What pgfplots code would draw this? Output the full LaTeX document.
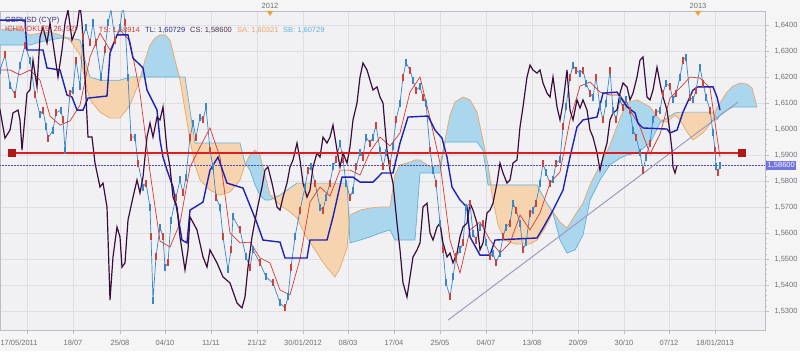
\documentclass[border=0pt]{standalone}
\usepackage{pgfplots}
\pgfplotsset{compat=1.18}
\usepackage{pgfplotstable}
\usepgfplotslibrary{fillbetween}
\usepackage{fontspec}
\setmainfont{Liberation Sans}

\definecolor{bgc}{HTML}{F5F5F5}
\definecolor{plotbg}{HTML}{F1F1F3}
\definecolor{gridc}{HTML}{DEDEE3}
\definecolor{axc}{HTML}{BDBDC3}
\definecolor{tickc}{HTML}{707078}
\definecolor{cloudB}{HTML}{AAD6EE}
\definecolor{cloudO}{HTML}{F7D4B0}
\definecolor{saC}{HTML}{E6A76A}
\definecolor{sbC}{HTML}{62B2DA}
\definecolor{kijC}{HTML}{1E22B0}
\definecolor{tenC}{HTML}{D53A32}
\definecolor{chiC}{HTML}{3A0E3C}
\definecolor{upC}{HTML}{3B86C8}
\definecolor{dnC}{HTML}{C8443C}
\definecolor{hlC}{HTML}{D81E1E}
\definecolor{trC}{HTML}{9C9CBC}
\definecolor{lastC}{HTML}{7272E0}
\definecolor{yearC}{HTML}{F0A030}
\definecolor{navyT}{HTML}{303080}
\definecolor{purT}{HTML}{503050}
\pagecolor{bgc}

\pgfplotstableread{
x p
-43 1.6227
-38 1.6285
-33 1.6169
-28 1.6131
-23 1.6246
-18 1.6323
-13 1.6265
-8 1.6131
-3 1.6054
0 1.6073
3 1.6008
5 1.5965
10 1.5996
13 1.6062
18 1.6073
20 1.6035
22 1.5919
27 1.6138
30 1.6150
33 1.6265
37 1.6162
40 1.6354
43 1.6392
47 1.6331
50 1.6408
53 1.6331
58 1.6200
62 1.6304
65 1.6408
68 1.6458
72 1.6342
77 1.6392
80 1.6477
82 1.6408
85 1.6200
88 1.5969
92 1.5969
95 1.5869
100 1.5777
103 1.5792
107 1.5700
108 1.5585
110 1.5342
113 1.5508
117 1.5623
120 1.5585
122 1.5469
125 1.5485
128 1.5650
133 1.5738
137 1.5804
140 1.5754
143 1.5815
147 1.5969
150 1.6023
153 1.5969
157 1.6046
160 1.6035
163 1.6085
167 1.5919
170 1.5854
173 1.5738
177 1.5700
180 1.5585
185 1.5458
188 1.5535
190 1.5662
197 1.5612
203 1.5508
207 1.5469
210 1.5535
217 1.5485
223 1.5431
230 1.5408
237 1.5331
242 1.5312
245 1.5354
248 1.5469
252 1.5585
257 1.5688
262 1.5777
265 1.5842
268 1.5854
272 1.5792
277 1.5700
280 1.5688
283 1.5738
287 1.5792
290 1.5854
293 1.5881
297 1.5946
300 1.5881
303 1.5792
307 1.5738
310 1.5765
313 1.5854
317 1.5908
320 1.5892
323 1.5969
327 1.5946
330 1.5969
333 1.6015
337 1.5919
340 1.5854
343 1.5908
347 1.5869
350 1.5931
353 1.6035
357 1.6100
360 1.6200
363 1.6254
367 1.6227
370 1.6188
373 1.6150
377 1.6162
380 1.6123
383 1.6100
387 1.5919
390 1.5842
393 1.5792
397 1.5638
400 1.5535
403 1.5408
407 1.5354
410 1.5431
413 1.5508
417 1.5535
420 1.5562
423 1.5700
427 1.5715
430 1.5600
433 1.5573
437 1.5623
440 1.5638
443 1.5562
447 1.5508
450 1.5523
453 1.5485
457 1.5523
460 1.5585
463 1.5623
467 1.5638
470 1.5715
473 1.5688
477 1.5638
480 1.5535
483 1.5562
487 1.5677
490 1.5688
493 1.5715
497 1.5792
500 1.5869
503 1.5831
507 1.5792
510 1.5804
513 1.5869
517 1.5881
520 1.6008
523 1.6085
527 1.6200
530 1.6246
533 1.6227
537 1.6215
540 1.6227
543 1.6177
547 1.6138
550 1.6123
553 1.6200
557 1.6085
560 1.6035
563 1.6100
567 1.6227
570 1.6073
573 1.6035
577 1.6112
580 1.6081
583 1.6112
587 1.6073
590 1.5996
593 1.5969
597 1.5908
600 1.5842
603 1.5892
607 1.5946
610 1.6035
613 1.6062
617 1.6073
620 1.6138
623 1.6177
627 1.6162
630 1.6112
633 1.6138
637 1.6200
640 1.6265
643 1.6277
647 1.6123
650 1.6112
653 1.6150
657 1.6238
660 1.6177
663 1.6123
667 1.6073
670 1.5985
672 1.5919
673 1.5854
675 1.5831
677 1.5860
}\closes

\pgfplotstableread{
x k
0 1.6419
25 1.6419
27 1.6304
43 1.6304
47 1.6235
60 1.6227
67 1.6131
72 1.6123
77 1.6073
83 1.6073
88 1.6119
107 1.6127
110 1.6292
117 1.6362
128 1.6362
133 1.6273
143 1.6235
147 1.6150
157 1.6073
160 1.5958
163 1.5892
167 1.5842
173 1.5777
177 1.5688
182 1.5573
187 1.5562
190 1.5688
203 1.5719
210 1.5842
218 1.5892
227 1.5792
243 1.5773
257 1.5638
263 1.5573
280 1.5565
285 1.5504
307 1.5504
310 1.5573
327 1.5573
333 1.5662
342 1.5815
353 1.5815
360 1.5796
373 1.5796
382 1.5831
393 1.5831
400 1.5946
408 1.6046
428 1.6050
435 1.5996
442 1.5965
447 1.5892
452 1.5777
460 1.5727
467 1.5700
470 1.5585
480 1.5515
490 1.5515
495 1.5573
537 1.5581
543 1.5619
553 1.5688
563 1.5765
570 1.5892
577 1.6008
583 1.6035
597 1.6046
603 1.6138
617 1.6142
627 1.6085
635 1.6062
638 1.6023
643 1.6004
667 1.6000
670 1.5985
677 1.5996
683 1.6065
693 1.6150
698 1.6162
713 1.6162
717 1.6123
720 1.6073
}\kijun

\pgfplotstableread{
x t
0 1.6227
10 1.6227
20 1.6208
30 1.6227
40 1.6188
50 1.6050
60 1.6015
70 1.6031
80 1.6092
90 1.6277
100 1.6369
110 1.6304
120 1.6381
130 1.6338
140 1.6138
150 1.5835
160 1.5569
170 1.5546
180 1.5638
190 1.5854
200 1.5931
210 1.6004
220 1.5892
230 1.5600
240 1.5562
250 1.5565
260 1.5504
270 1.5485
280 1.5381
290 1.5362
300 1.5500
310 1.5719
320 1.5777
330 1.5742
340 1.5842
350 1.5842
360 1.5823
370 1.5912
380 1.5969
390 1.5935
400 1.5985
410 1.6142
420 1.6200
430 1.6042
440 1.5869
450 1.5573
460 1.5446
470 1.5612
480 1.5642
490 1.5573
500 1.5523
510 1.5562
520 1.5669
530 1.5612
540 1.5677
550 1.5792
560 1.5835
570 1.6035
580 1.6165
590 1.6181
600 1.6142
610 1.6131
620 1.6131
630 1.6073
640 1.6008
650 1.5904
660 1.5981
670 1.6119
680 1.6158
690 1.6200
700 1.6196
710 1.6158
720 1.5892
}\tenkan

\pgfplotstableread{
x A B
0 1.6381 1.6323
10 1.6388 1.6323
20 1.6381 1.6323
30 1.6362 1.6323
40 1.6369 1.6335
50 1.6373 1.6342
60 1.6362 1.6350
70 1.6342 1.6350
80 1.6285 1.6342
85 1.6188 1.6265
90 1.6112 1.6200
100 1.6065 1.6188
110 1.6042 1.6188
120 1.6042 1.6188
130 1.6092 1.6200
140 1.6188 1.6200
145 1.6265 1.6200
150 1.6323 1.6200
155 1.6350 1.6200
160 1.6362 1.6200
165 1.6362 1.6200
170 1.6342 1.6200
175 1.6265 1.6200
180 1.6188 1.6200
185 1.6073 1.6200
190 1.5958 1.6073
195 1.5862 1.5946
200 1.5804 1.5946
210 1.5765 1.5946
220 1.5746 1.5946
230 1.5758 1.5946
240 1.5804 1.5946
245 1.5862 1.5869
250 1.5900 1.5842
255 1.5919 1.5785
260 1.5900 1.5746
265 1.5823 1.5727
270 1.5746 1.5727
280 1.5708 1.5746
290 1.5681 1.5773
297 1.5658 1.5792
305 1.5592 1.5792
315 1.5535 1.5792
325 1.5477 1.5792
335 1.5431 1.5792
340 1.5465 1.5792
347 1.5542 1.5792
350 1.5669 1.5562
360 1.5688 1.5573
370 1.5696 1.5585
380 1.5700 1.5600
390 1.5700 1.5612
395 1.5823 1.5573
400 1.5862 1.5573
410 1.5873 1.5573
415 1.5881 1.5573
420 1.5881 1.5831
430 1.5854 1.5831
440 1.5862 1.5831
445 1.5958 1.5950
450 1.6054 1.5950
455 1.6104 1.5950
463 1.6123 1.5950
470 1.6112 1.5950
477 1.6065 1.5950
483 1.5958 1.5919
488 1.5862 1.5785
492 1.5746 1.5785
498 1.5631 1.5785
505 1.5573 1.5785
515 1.5558 1.5785
530 1.5558 1.5785
537 1.5573 1.5785
545 1.5619 1.5727
553 1.5681 1.5677
560 1.5642 1.5573
567 1.5619 1.5523
575 1.5669 1.5535
583 1.5715 1.5592
590 1.5785 1.5727
600 1.5862 1.5804
610 1.5938 1.5862
620 1.6042 1.5888
627 1.6100 1.5900
637 1.6112 1.5908
650 1.6085 1.5946
660 1.6035 1.6023
667 1.6027 1.6042
675 1.6054 1.6062
680 1.6035 1.6065
687 1.5989 1.6065
693 1.5958 1.6065
703 1.5985 1.6065
713 1.6035 1.6065
717 1.6081 1.6035
720 1.6100 1.6054
727 1.6142 1.6073
733 1.6165 1.6085
740 1.6177 1.6085
747 1.6173 1.6085
752 1.6158 1.6085
757 1.6085 1.6085
}\cloud

\begin{document}
\begin{tikzpicture}
\begin{axis}[
  set layers,
  at={(0,0)}, anchor=south west,
  width=765pt, height=319pt, scale only axis,
  xmin=0, xmax=765, ymin=1.5227, ymax=1.6454,
  axis background/.style={fill=plotbg},
  axis line style={axc},
  xtick={27,73,120,165,211,257,303,348,394,440,486,532,578,624,669,715},
  xticklabels={{\hspace*{-16pt}17/05/2011},18/07,25/08,04/10,11/11,21/12,30/01/2012,08/03,17/04,25/05,04/07,13/08,20/09,30/10,07/12,18/01/2013},
  ytick={1.53,1.54,1.55,1.56,1.57,1.58,1.59,1.60,1.61,1.62,1.63,1.64},
  xtick pos=bottom, ytick pos=right, yticklabel pos=right,
  tick align=outside,
  major tick length=4pt, minor tick length=2pt,
  minor x tick num=4, minor y tick num=4,
  tick style={axc, line width=0.4pt},
  grid=major, major grid style={gridc, line width=0.5pt},
  ticklabel style={font=\fontsize{7.5}{9}\selectfont, text=tickc},
  yticklabel style={anchor=west, xshift=2pt, /pgf/number format/.cd, fixed, fixed zerofill, precision=4, use comma, assume math mode=true},
  xticklabel style={yshift=-3pt},
]
% Kumo cloud
\addplot[draw=none, name path=sa] table[x=x, y=A]{\cloud};
\addplot[draw=none, name path=sb] table[x=x, y=B]{\cloud};
\addplot[draw=none, name path=mx] table[x=x, y expr={max(\thisrow{A},\thisrow{B})}]{\cloud};
\addplot[cloudB] fill between[of=mx and sb];
\addplot[cloudO] fill between[of=mx and sa];
\addplot[saC, line width=0.7pt] table[x=x, y=A]{\cloud};
\addplot[sbC, line width=0.7pt] table[x=x, y=B]{\cloud};
% last-value dotted line
\addplot[gray!60!blue, densely dotted, line width=0.5pt] coordinates {(0,1.5860) (765,1.5860)};
% trend line
\addplot[trC, line width=1pt] coordinates {(448,1.5265) (738,1.6104)};
% price (candles)
\addplot[upC, line width=0.7pt] table[x expr=\thisrow{x}+43, y=p]{\closes};
\addplot[draw=none, mark=|, mark size=3.5pt, mark repeat=2, mark phase=1,
  mark options={draw=upC, line width=1.1pt, solid}]
  table[x expr=\thisrow{x}+43, y=p]{\closes};
\addplot[draw=none, mark=|, mark size=3.5pt, mark repeat=2, mark phase=2,
  mark options={draw=dnC, line width=1.1pt, solid}]
  table[x expr=\thisrow{x}+43, y=p]{\closes};
% Tenkan
\addplot[tenC, line width=0.7pt] table[x=x, y=t]{\tenkan};
% Kijun
\addplot[kijC, line width=1.4pt] table[x=x, y=k]{\kijun};
% Chikou
\addplot[chiC, line width=1.2pt] table[x=x, y=p]{\closes};
% horizontal level
\addplot[hlC, line width=1.8pt, mark=square*, mark size=3pt, mark options={fill=hlC!80!black, draw=hlC!80!black, solid}] coordinates {(12,1.5908) (742,1.5908)};

\node[anchor=west, inner sep=0pt, text=navyT, font=\fontsize{7.5}{9}\selectfont] at (axis cs:5,1.6419) {GBPUSD (CYP)};
\node[anchor=west, inner sep=0pt, text=tenC, font=\fontsize{7.5}{9}\selectfont] at (axis cs:5,1.6381) {ICHIMOKU(9, 26, 52)};
\node[anchor=east, inner sep=0pt, text=tenC, font=\fontsize{7.5}{9}\selectfont] at (axis cs:140,1.6381) {TS: 1,58914};
\node[anchor=west, inner sep=0pt, text=navyT, font=\fontsize{7.5}{9}\selectfont] at (axis cs:145,1.6381) {TL: 1,60729};
\node[anchor=west, inner sep=0pt, text=purT, font=\fontsize{7.5}{9}\selectfont] at (axis cs:190,1.6381) {CS: 1,58600};
\node[anchor=west, inner sep=0pt, text=saC, font=\fontsize{7.5}{9}\selectfont] at (axis cs:237,1.6381) {SA: 1,60321};
\node[anchor=west, inner sep=0pt, text=sbC, font=\fontsize{7.5}{9}\selectfont] at (axis cs:283,1.6381) {SB: 1,60729};

\coordinate (y2012) at (axis cs:270,1.6454);
\coordinate (y2013) at (axis cs:698,1.6454);
\coordinate (lastv) at (axis cs:765,1.5860);
\end{axis}
\node[anchor=south, inner sep=0pt, text=tickc, font=\fontsize{7.5}{9}\selectfont] at ([yshift=2pt]y2012) {2012};
\node[anchor=south, inner sep=0pt, text=tickc, font=\fontsize{7.5}{9}\selectfont] at ([yshift=2pt]y2013) {2013};
\fill[yearC] ([xshift=-3pt]y2012) -- ([xshift=3pt]y2012) -- ([yshift=-5pt]y2012) -- cycle;
\fill[yearC] ([xshift=-3pt]y2013) -- ([xshift=3pt]y2013) -- ([yshift=-5pt]y2013) -- cycle;
\node[anchor=west, fill=lastC, text=white, inner sep=1.5pt, font=\fontsize{7.5}{9}\selectfont] at ([xshift=1pt]lastv) {1,58600};
\pgfresetboundingbox
\useasboundingbox (0,-21pt) rectangle (800pt,330pt);
\end{tikzpicture}
\end{document}
